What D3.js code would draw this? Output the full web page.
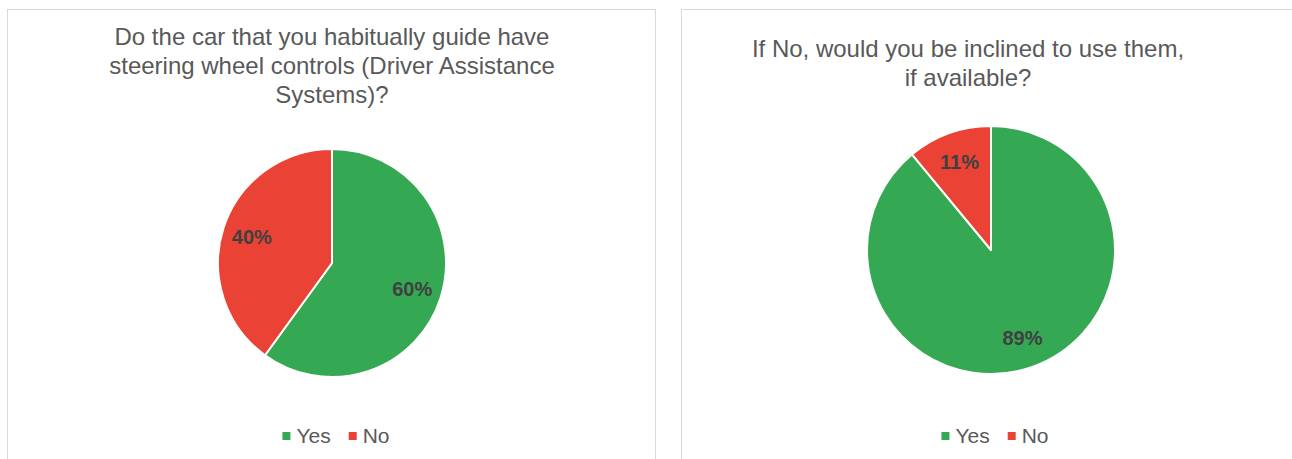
<!DOCTYPE html>
<html>
<head>
<meta charset="utf-8">
<script src="https://cdn.jsdelivr.net/npm/d3@7"></script>
<style>
  html,body{margin:0;padding:0;background:#fff;}
  svg{display:block;font-family:"Liberation Sans",Arial,sans-serif;}
</style>
</head>
<body>
<svg id="chart" width="1292" height="459"></svg>
<script>
// data
var categories=['Yes','No']
var sliceColors=['#35A853','#EA4335']
var steeringValues=[60,40]
var inclinedValues=[89,11]
var steeringTitle=['Do the car that you habitually guide have','steering wheel controls (Driver Assistance','Systems)?']
var inclinedTitle=['If No, would you be inclined to use them,','if available?']

var panels=[
    {values:steeringValues,title:steeringTitle,box:[7,9,648],cx:332,cy:263,r:114,titleX:332,titleY:45,legendX:336,labelK:0.74},
    {values:inclinedValues,title:inclinedTitle,box:[681,9,648],cx:991,cy:250,r:124,titleX:968,titleY:57,legendX:995,labelK:0.75}
]
var legendY=436

var svg=d3.select('#chart')

panels.forEach(function(p){
    var g=svg.append('g')
    g.append('rect')
        .attr('x',p.box[0]+0.5)
        .attr('y',p.box[1]+0.5)
        .attr('width',p.box[2])
        .attr('height',480)
        .attr('fill','#fff')
        .attr('stroke','#d9d9d9')
        .attr('stroke-width',1)

    g.append('text')
        .attr('text-anchor','middle')
        .attr('font-size',24)
        .attr('fill','#595959')
        .selectAll('tspan')
        .data(p.title)
        .join('tspan')
        .attr('x',p.titleX)
        .attr('y',(d,i)=>p.titleY+i*29)
        .text(d=>d)

    var pie=d3.pie().sort(null).value(d=>d)
    var arcs=pie(p.values)
    var arc=d3.arc().innerRadius(0).outerRadius(p.r)
    var labelArc=d3.arc().innerRadius(p.r*p.labelK).outerRadius(p.r*p.labelK)
    var pg=g.append('g').attr('transform',`translate(${p.cx},${p.cy})`)
    pg.selectAll('path')
        .data(arcs)
        .join('path')
        .attr('d',arc)
        .attr('fill',(d,i)=>sliceColors[i])
        .attr('stroke','#fff')
        .attr('stroke-width',2)
        .attr('stroke-linejoin','round')
    pg.selectAll('text')
        .data(arcs)
        .join('text')
        .attr('transform',d=>`translate(${labelArc.centroid(d)})`)
        .attr('text-anchor','middle')
        .attr('dy','0.35em')
        .attr('font-size',20)
        .attr('font-weight','bold')
        .attr('fill','#404040')
        .text(d=>d.data+'%')

    // legend, centred on legendX
    var lg=g.append('g')
    var items=lg.selectAll('g')
        .data(categories)
        .join('g')
    items.append('rect')
        .attr('width',8)
        .attr('height',8)
        .attr('y',-4)
        .attr('fill',(d,i)=>sliceColors[i])
    items.append('text')
        .attr('x',14)
        .attr('dy','0.35em')
        .attr('font-size',21)
        .attr('fill','#595959')
        .text(d=>d)
    var off=0
    items.each(function(){
        var w=this.getBBox().width
        d3.select(this).attr('transform',`translate(${off},0)`)
        off+=w+18
    })
    off-=18
    lg.attr('transform',`translate(${p.legendX-off/2},${legendY})`)
})
</script>
</body>
</html>
